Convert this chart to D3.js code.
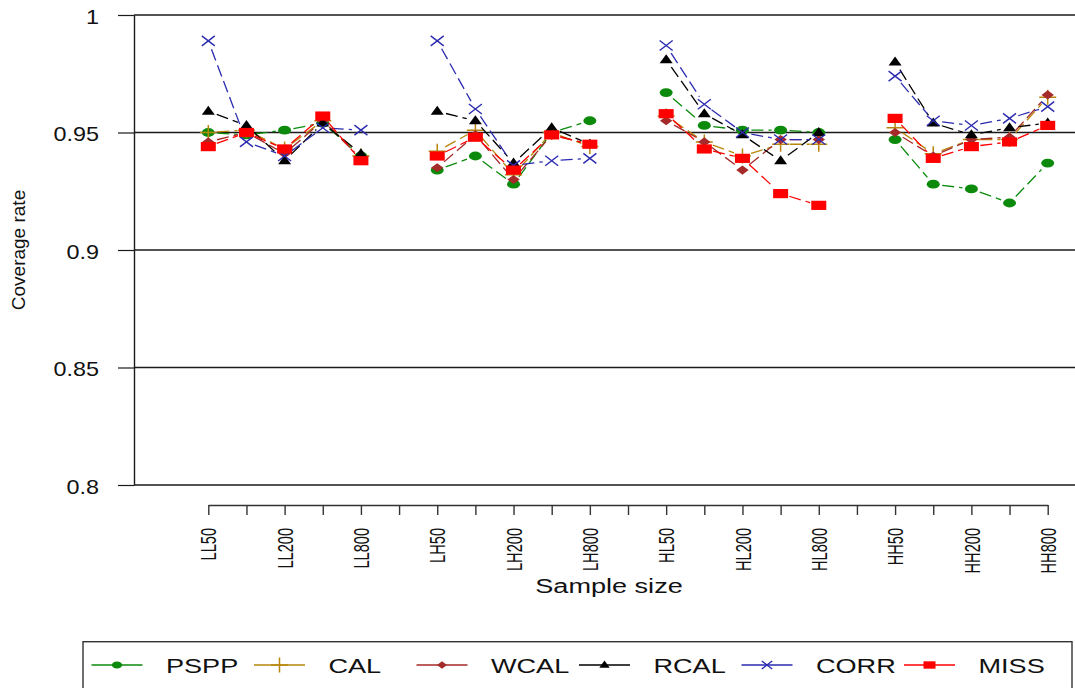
<!DOCTYPE html>
<html>
<head>
<meta charset="utf-8">
<script src="https://cdn.jsdelivr.net/npm/d3@7"></script>
<style>
  body { margin: 0; background: #fff; }
  svg { display: block; font-family: "Liberation Sans", Arial, sans-serif; }
</style>
</head>
<body>
<div id="chart"></div>
<script>
'use strict';

const groups = ["LL", "LH", "HL", "HH"]
const sizes = [50, 100, 200, 400, 800]
const categories = groups.flatMap(g => sizes.map(s => g + s))

const yTicks = [0.8, 0.85, 0.9, 0.95, 1]

const seriesNames = ["PSPP", "CAL", "WCAL", "RCAL", "CORR", "MISS"]
const pspp = [0.950, 0.949, 0.951, 0.954, 0.940, 0.934, 0.940, 0.928, 0.950, 0.955,
              0.967, 0.953, 0.951, 0.951, 0.950, 0.947, 0.928, 0.926, 0.920, 0.937]
const cal  = [0.950, 0.951, 0.943, 0.955, 0.940, 0.942, 0.951, 0.932, 0.950, 0.944,
              0.957, 0.946, 0.940, 0.945, 0.945, 0.952, 0.941, 0.947, 0.947, 0.965]
const wcal = [0.946, 0.950, 0.941, 0.955, 0.939, 0.935, 0.949, 0.930, 0.949, 0.945,
              0.955, 0.946, 0.934, 0.947, 0.947, 0.950, 0.940, 0.947, 0.948, 0.966]
const rcal = [0.959, 0.953, 0.938, 0.954, 0.941, 0.959, 0.955, 0.937, 0.952, 0.945,
              0.981, 0.958, 0.949, 0.938, 0.950, 0.980, 0.954, 0.949, 0.952, 0.954]
const corr = [0.989, 0.946, 0.940, 0.952, 0.951, 0.989, 0.960, 0.936, 0.938, 0.939,
              0.987, 0.962, 0.950, 0.947, 0.947, 0.974, 0.955, 0.953, 0.956, 0.961]
const miss = [0.944, 0.950, 0.943, 0.957, 0.938, 0.940, 0.948, 0.934, 0.949, 0.945,
              0.958, 0.943, 0.939, 0.924, 0.919, 0.956, 0.939, 0.944, 0.946, 0.953]
const seriesValues = [pspp, cal, wcal, rcal, corr, miss]
const colors = ["#0b8a0b", "#b8860b", "#a52a2a", "#000000", "#2b2bb0", "#ff0000"]
const shapes = ["circle", "plus", "diamond", "triangle", "cross", "square"]

const width = 1075, height = 688

// position on the x scale: one empty slot between groups
const posOf = i => Math.floor(i / sizes.length) * (sizes.length + 1) + (i % sizes.length) + 1
const nPos = groups.length * (sizes.length + 1) - 1

const svg = d3.select("#chart").append("svg")
    .attr("width", width)
    .attr("height", height)

const x = d3.scaleLinear().domain([1, nPos]).range([208.3, 1047.7])
const y = d3.scaleLinear().domain([0.8, 1]).range([485, 15])

// horizontal reference lines
svg.append("g")
    .selectAll("line")
    .data(yTicks)
    .join("line")
    .attr("x1", 134).attr("x2", width)
    .attr("y1", d => y(d)).attr("y2", d => y(d))
    .attr("stroke", "#1a1a1a")
    .attr("stroke-width", 1.4)

// y axis
const yAxis = svg.append("g")
    .attr("transform", "translate(134,0)")
    .call(d3.axisLeft(y).tickValues(yTicks).tickSize(16).tickSizeOuter(0).tickFormat(d => d))
yAxis.select(".domain").attr("stroke", "#1a1a1a").attr("stroke-width", 1.4)
yAxis.selectAll(".tick line").attr("stroke", "#1a1a1a").attr("stroke-width", 1.2)
yAxis.selectAll(".tick text")
    .attr("x", 0)
    .attr("dy", "0.42em")
    .attr("transform", "translate(-35,0) scale(1.17,1)")
    .attr("font-size", 20)
    .attr("font-family", "Liberation Sans, Arial, sans-serif")
    .attr("fill", "#111")

// x axis
const xAxis = svg.append("g")
    .attr("transform", "translate(0,505)")
    .call(d3.axisBottom(x).tickValues(d3.range(1, nPos + 1)).tickSize(10).tickSizeOuter(0).tickFormat(""))
xAxis.select(".domain").attr("stroke", "#333").attr("stroke-width", 1.4)
xAxis.selectAll(".tick line").attr("stroke", "#333").attr("stroke-width", 1.4)

// only the labels on odd positions fit
svg.append("g")
    .selectAll("g")
    .data(categories.map((c, i) => ({ c, i })).filter(d => posOf(d.i) % 2 === 1))
    .join("g")
    .attr("transform", d => `translate(${x(posOf(d.i))},528) rotate(-90) scale(1,1.55)`)
    .append("text")
    .attr("text-anchor", "end")
    .attr("dy", "0.36em")
    .attr("font-size", 14.6)
    .attr("fill", "#111")
    .text(d => d.c)

svg.append("text")
    .attr("transform", "translate(609,593) scale(1.29,1)")
    .attr("text-anchor", "middle")
    .attr("font-size", 21)
    .attr("fill", "#111")
    .text("Sample size")

svg.append("text")
    .attr("transform", "translate(18,250) rotate(-90)")
    .attr("text-anchor", "middle")
    .attr("dy", "0.36em")
    .attr("font-size", 19)
    .attr("fill", "#111")
    .text("Coverage rate")

// marker shapes, sized for the stretched picture
function marker(sel, shape, color, s) {
    if (shape === "circle") {
        sel.append("ellipse").attr("rx", 6.5 * s).attr("ry", 4.4 * s).attr("fill", color)
    } else if (shape === "square") {
        sel.append("rect").attr("x", -7.5 * s).attr("y", -4.6 * s)
            .attr("width", 15 * s).attr("height", 9.2 * s).attr("fill", color)
    } else if (shape === "triangle") {
        sel.append("path").attr("d", `M0,${-5.5 * s}L${6.5 * s},${3.5 * s}L${-6.5 * s},${3.5 * s}Z`).attr("fill", color)
    } else if (shape === "diamond") {
        sel.append("path").attr("d", `M0,${-4.6 * s}L${6.2 * s},0L0,${4.6 * s}L${-6.2 * s},0Z`).attr("fill", color)
    } else if (shape === "plus") {
        sel.append("path").attr("d", "M-8.5,0H8.5M0,-7.5V7.5")
            .attr("stroke", color).attr("stroke-width", 1.5).attr("fill", "none")
    } else if (shape === "cross") {
        sel.append("path").attr("d", `M${-6.5 * s},${-5 * s}L${6.5 * s},${5 * s}M${-6.5 * s},${5 * s}L${6.5 * s},${-5 * s}`)
            .attr("stroke", color).attr("stroke-width", 1.4).attr("fill", "none")
    }
}

// lines with a gap round each point (type "b")
const gap = 9
seriesValues.forEach((vals, si) => {
    const g = svg.append("g")
    const pts = vals.map((v, i) => ({ i, px: x(posOf(i)), py: y(v) }))
    const segs = []
    for (let i = 0; i < pts.length - 1; i++) {
        if (Math.floor(i / sizes.length) !== Math.floor((i + 1) / sizes.length)) continue
        const a = pts[i], b = pts[i + 1]
        const dx = b.px - a.px, dy = b.py - a.py, len = Math.hypot(dx, dy)
        if (len <= 2 * gap) continue
        const ux = dx / len, uy = dy / len
        segs.push([a.px + ux * gap, a.py + uy * gap, b.px - ux * gap, b.py - uy * gap])
    }
    g.selectAll("line")
        .data(segs)
        .join("line")
        .attr("x1", d => d[0]).attr("y1", d => d[1])
        .attr("x2", d => d[2]).attr("y2", d => d[3])
        .attr("stroke", colors[si])
        .attr("stroke-width", 1.3)
        .attr("stroke-dasharray", "12,5")
    g.selectAll("g")
        .data(pts)
        .join("g")
        .attr("transform", d => `translate(${d.px},${d.py})`)
        .each(function () { marker(d3.select(this), shapes[si], colors[si], 1) })
})

// legend
const legend = svg.append("g")
legend.append("rect")
    .attr("x", 83).attr("y", 641.7)
    .attr("width", 989).attr("height", 80)
    .attr("fill", "none")
    .attr("stroke", "#333")
    .attr("stroke-width", 1.4)

const items = legend.selectAll("g.item")
    .data(seriesNames)
    .join("g")
    .attr("class", "item")
    .attr("transform", (d, i) => `translate(${91.5 + i * 162.5},665)`)
items.append("line")
    .attr("x1", 0).attr("x2", 51)
    .attr("stroke", (d, i) => colors[i])
    .attr("stroke-width", 1.5)
items.append("g")
    .attr("transform", "translate(25.5,0)")
    .each(function (d, i) { marker(d3.select(this), shapes[i], colors[i], 0.8) })
items.append("text")
    .attr("transform", "translate(74.5,8) scale(1.29,1)")
    .attr("font-size", 21)
    .attr("fill", "#111")
    .text(d => d)
</script>
</body>
</html>
